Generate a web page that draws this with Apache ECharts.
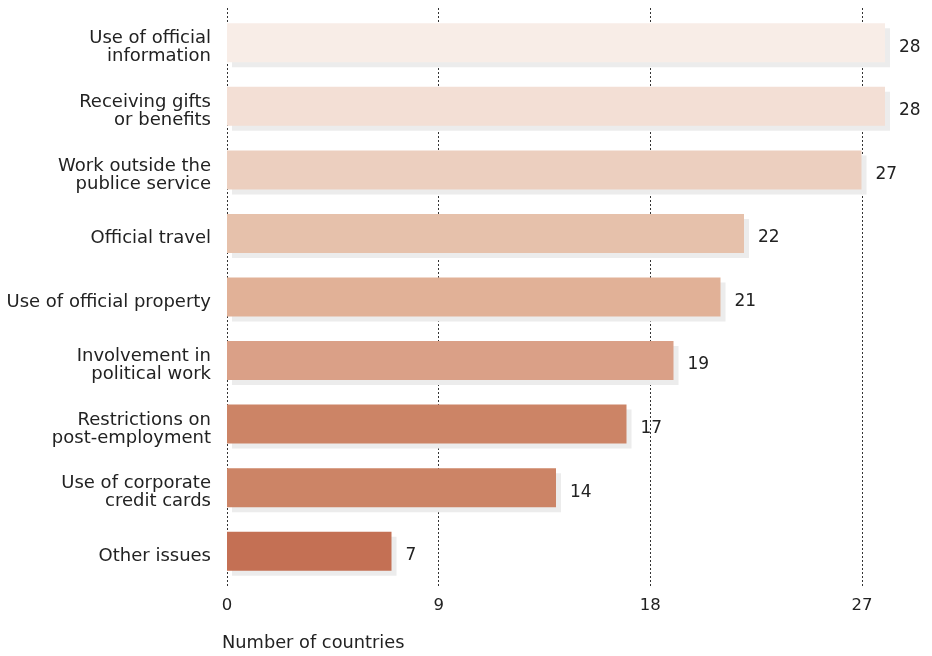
<!DOCTYPE html>
<html>
<head>
<meta charset="utf-8">
<script src="https://cdn.jsdelivr.net/npm/echarts@6/dist/echarts.min.js"></script>
<style>html,body{margin:0;padding:0;background:#fff}#c{width:932px;height:656px}</style>
</head>
<body>
<div id="c"></div>
<script>
const categories = [
  "Use of official\ninformation",
  "Receiving gifts\nor benefits",
  "Work outside the\npublice service",
  "Official travel",
  "Use of official property",
  "Involvement in\npolitical work",
  "Restrictions on\npost-employment",
  "Use of corporate\ncredit cards",
  "Other issues"
];
const values = [28, 28, 27, 22, 21, 19, 17, 14, 7];
const barColors = ["#f8ede7", "#f3dfd5", "#eccfbf", "#e6c1ab", "#e1b197", "#daa087", "#cc8466", "#cc8466", "#c47054"];
const xTicks = [0, 9, 18, 27];
const axisTitle = "Number of countries";

const FONT = "DejaVu Sans";
const chart = echarts.init(document.getElementById('c'), null, {renderer: 'canvas'});
chart.setOption({
  animation: false,
  textStyle: {fontFamily: FONT},
  title: {
    text: axisTitle, left: 222, top: 634, padding: 0,
    textStyle: {fontFamily: FONT, fontSize: 17.8, fontWeight: 'normal', color: '#222'}
  },
  grid: [
    {left: 227, right: 47, top: 11, bottom: 73, containLabel: false},
    {left: 227, right: 70, top: 8, bottom: 68, containLabel: false},
    {left: 227, right: 47, top: 16, bottom: 68, containLabel: false}
  ],
  xAxis: [
    {gridIndex: 0, type: 'value', min: 0, max: 28, show: false},
    {gridIndex: 1, type: 'value', min: 0, max: xTicks[xTicks.length - 1], interval: 9,
     axisLine: {show: false}, axisTick: {show: false},
     axisLabel: {color: '#222', fontSize: 16.5, fontFamily: FONT, margin: 9},
     splitLine: {show: true, lineStyle: {color: '#333', type: [2, 2], width: 1}}},
    {gridIndex: 2, type: 'value', min: 0, max: 28, show: false}
  ],
  yAxis: [
    {gridIndex: 0, type: 'category', data: categories, inverse: true, show: false},
    {gridIndex: 1, type: 'value', show: false},
    {gridIndex: 2, type: 'category', data: categories, inverse: true,
     axisLine: {show: false}, axisTick: {show: false}, splitLine: {show: false},
     axisLabel: {color: '#222', fontSize: 18, fontFamily: FONT, margin: 16, align: 'right', lineHeight: 18}}
  ],
  series: [{
    type: 'bar',
    xAxisIndex: 0, yAxisIndex: 0,
    barWidth: 39,
    data: values.map((v, i) => ({value: v, itemStyle: {color: barColors[i]}})),
    itemStyle: {shadowColor: '#ececec', shadowBlur: 0, shadowOffsetX: 5, shadowOffsetY: 5},
    label: {show: true, position: 'right', distance: 14, offset: [0, 4.5], color: '#222', fontSize: 17, fontFamily: FONT}
  }]
});
</script>
</body>
</html>
